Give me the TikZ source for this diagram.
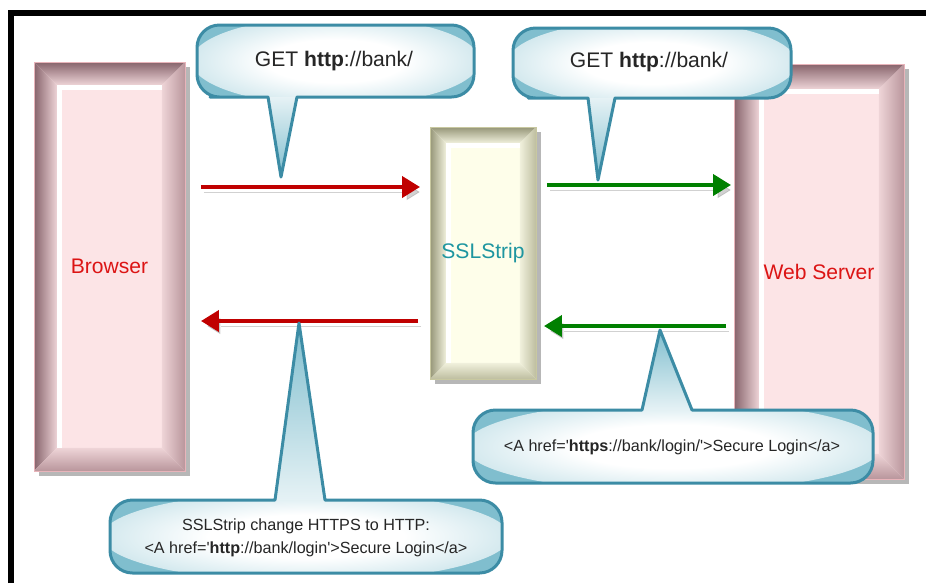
\documentclass[tikz,border=0pt]{standalone}
\usepackage{fontspec}
\setmainfont{Liberation Sans}
\usetikzlibrary{arrows.meta, backgrounds}

\definecolor{pinkface}{RGB}{252,228,230}
\definecolor{pinkedge}{RGB}{232,180,186}
\definecolor{pinkdark}{RGB}{135,100,108}
\definecolor{pinkmid}{RGB}{185,150,156}
\definecolor{pinklight}{RGB}{238,212,215}
\definecolor{oliveface}{RGB}{254,254,234}
\definecolor{oliveedge}{RGB}{200,200,160}
\definecolor{olivedark}{RGB}{150,150,120}
\definecolor{olivemid}{RGB}{190,190,160}
\definecolor{olivelight}{RGB}{240,240,220}
\definecolor{labelred}{RGB}{220,20,20}
\definecolor{labelteal}{RGB}{30,150,160}
\definecolor{arrowred}{RGB}{192,0,0}
\definecolor{arrowgreen}{RGB}{0,128,0}
\definecolor{bubbleline}{RGB}{60,140,165}
\definecolor{bubbleout}{RGB}{128,190,206}

\pgfdeclareradialshading{bubbleglow}{\pgfpoint{0bp}{0bp}}{color(0bp)=(white); color(12bp)=(white); color(50bp)=(bubbleout)}

% bevelled frame inside a box: #1 box, #2 bevel (px), #3-#5 dark/mid/light
\newcommand{\bevel}[5]{%
  \shade[top color=#3, bottom color=#5] (#1.north west) -- (#1.north east) -- ([shift={(-#2,#2)}]#1.north east) -- ([shift={(#2,#2)}]#1.north west) -- cycle;
  \shade[left color=#3, right color=#5] (#1.north west) -- ([shift={(#2,#2)}]#1.north west) -- ([shift={(#2,-#2)}]#1.south west) -- (#1.south west) -- cycle;
  \shade[left color=#5, right color=#4] (#1.north east) -- (#1.south east) -- ([shift={(-#2,-#2)}]#1.south east) -- ([shift={(-#2,#2)}]#1.north east) -- cycle;
  \shade[top color=#5, bottom color=#4] (#1.south west) -- ([shift={(#2,-#2)}]#1.south west) -- ([shift={(-#2,-#2)}]#1.south east) -- (#1.south east) -- cycle;
  \draw[white, line width=0.1cm] ([shift={(#2+2.5,-#2)}]#1.south west) -- ([shift={(#2+2.5,#2+2.5)}]#1.north west) -- ([shift={(-#2,#2+2.5)}]#1.north east);
}

% speech bubble: #1/#2 left/right, #3 edge with pointer, #4 far edge, #5/#6 pointer base, #7,#8 tip
\newcommand{\bubble}[8]{%
  \draw[bubble, path picture={
      \fill[bubbleout] (path picture bounding box.south west) rectangle (path picture bounding box.north east);
      \shade[shading=bubbleglow] ({(#1+#2)/2},{(#3+#4)/2}) ellipse [x radius={0.52*(#2-#1)}, y radius={0.62*abs(#4-#3)}];
      \shade[top color=bubbleout!20, bottom color=bubbleout, shading angle={(#8<#3)*180}] (#5,#3) -- (#7,#8) -- (#6,#3) -- cycle;
    }]
    ({(#6+#2)/2},#3) [rounded corners=0.45cm] -- (#2,#3) -- (#2,#4) -- (#1,#4) -- (#1,#3) -- ({(#1+#5)/2},#3)
    [sharp corners] -- (#5,#3) -- (#7,#8) -- (#6,#3) -- cycle;
}

\begin{document}
\begin{tikzpicture}[
    x=0.02cm, y=-0.02cm,
    box/.style={draw=#1, inner sep=0pt, outer sep=0pt, font=\fontsize{12}{14}\selectfont},
    flow/.style={line width=0.08cm, -{Triangle[length=0.36cm, width=0.42cm]},
        preaction={draw=black!45, opacity=0.4, transform canvas={xshift=0.06cm, yshift=-0.1cm}}},
    redflow/.style={flow, draw=arrowred},
    greenflow/.style={flow, draw=arrowgreen},
    bubble/.style={draw=bubbleline, line width=0.06cm, line join=round},
    msg/.style={inner sep=0pt, text=black!85, font=\fontsize{12}{14}\selectfont},
    note/.style={inner sep=0pt, align=center, text=black!85, font=\fontsize{9.2}{13}\selectfont}
  ]
  \useasboundingbox (0,0) rectangle (926,583);

  % frame
  \draw[line width=0.11cm] (11,583) -- (11,13) -- (926,13);

  % boxes
  \node[box=pinkedge, text=labelred, minimum width=3.02cm, minimum height=8.18cm] (browser) at (109.5,266.5) {Browser};
  \node[box=oliveedge, text=labelteal, minimum width=2.12cm, minimum height=5.04cm] (strip) at (483,253) {SSLStrip};
  \node[box=pinkedge, text=labelred, minimum width=3.4cm, minimum height=8.3cm] (web) at (819,271.5) {Web Server};
  % shadow, face and bevel behind the labels
  \begin{scope}[on background layer]
    \foreach \n/\b/\tone in {browser/23/pink, strip/16/olive, web/25/pink} {
      \fill[black!70, opacity=0.4] ([shift={(5,5)}]\n.north west) rectangle ([shift={(5,5)}]\n.south east);
      \fill[\tone face] (\n.north west) rectangle (\n.south east);
      \bevel{\n}{\b}{\tone dark}{\tone mid}{\tone light}
    }
  \end{scope}

  % requests
  \draw[redflow, shorten <=0.32cm, shorten >=0.2cm] (browser.east |- 0,187) -- (strip.west |- 0,187);
  \draw[greenflow, shorten <=0.22cm, shorten >=0.06cm] (strip.east |- 0,185) -- (web.west |- 0,185);
  % responses
  \draw[greenflow, shorten <=0.16cm, shorten >=0.16cm] (web.west |- 0,326) -- (strip.east |- 0,326);
  \draw[redflow, shorten <=0.24cm, shorten >=0.32cm] (strip.west |- 0,321) -- (browser.east |- 0,321);

  % bubbles
  \bubble{197}{474}{97}{25}{268}{297}{281}{177}
  \bubble{513}{791}{98}{28}{588}{615}{598}{180}
  \bubble{110}{502}{500}{573}{275}{325}{299}{323}
  \bubble{473}{873}{410}{483}{642}{692}{660}{330}

  \node[msg] (req1) at (334,61) {GET \textbf{http}://bank/};
  \node[msg] (req2) at (649,62) {GET \textbf{http}://bank/};
  \node[note] (rewrite) at (306,538) {SSLStrip change HTTPS to HTTP:\\<A href=\textquotesingle\textbf{http}://bank/login\textquotesingle>Secure Login</a>};
  \node[note] (reply) at (672,447) {<A href=\textquotesingle\textbf{https}://bank/login/\textquotesingle>Secure Login</a>};
\end{tikzpicture}
\end{document}
